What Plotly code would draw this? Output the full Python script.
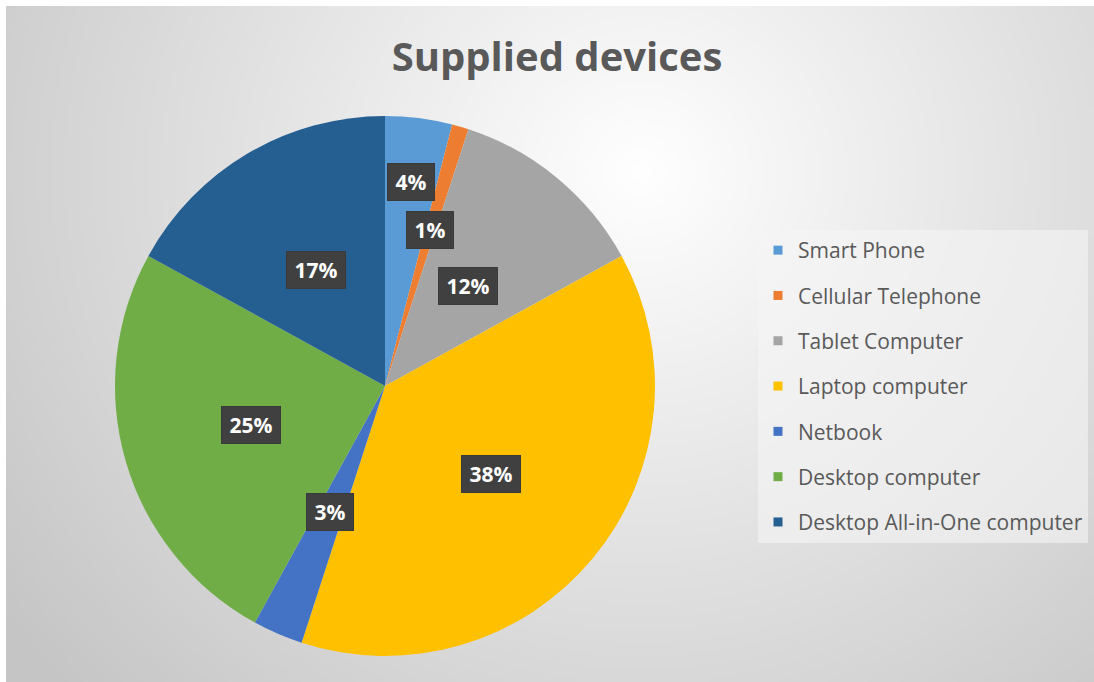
import base64
import math
import struct
import zlib

import numpy as np
import plotly.graph_objects as go

# ---- data -------------------------------------------------------------
devices = [
    "Smart Phone",
    "Cellular Telephone",
    "Tablet Computer",
    "Laptop computer",
    "Netbook",
    "Desktop computer",
    "Desktop All-in-One computer",
]
shares = [4, 1, 12, 38, 3, 25, 17]  # percent of supplied devices

# ---- style ------------------------------------------------------------
colors = ["#5B9BD5", "#ED7D31", "#A5A5A5", "#FFC000", "#4472C4", "#70AD47", "#255E91"]
label_radius = [0.76, 0.60, 0.48, 0.51, 0.51, 0.515, 0.50]  # fraction of pie radius
W, H = 1094, 682
FONT = "Open Sans"
TEXT_GREY = "#595959"
THIN = "\u2009"

# chart frame (inset by a thin white margin on the top and left)
frame_x0, frame_y0 = 6, 6
# pie placement in pixels
pie_cx, pie_cy, pie_r = 385, 386, 270


def gradient_png():
    """Soft radial grey gradient used as the chart area fill."""
    scale = 4
    gw, gh = (W - frame_x0) // scale, (H - frame_y0) // scale
    yy, xx = np.mgrid[0:gh, 0:gw].astype(float)
    px = xx * scale + frame_x0
    py = yy * scale + frame_y0
    r = np.hypot(px - 640, (py - 170) * 1.05)
    t = np.clip(r / 800.0, 0, 1)
    val = 255 - t * 58
    img = np.clip(val, 0, 255).astype(np.uint8)
    raw = b"".join(b"\x00" + row.tobytes() for row in img)

    def chunk(tag, data):
        c = struct.pack(">I", len(data)) + tag + data
        return c + struct.pack(">I", zlib.crc32(tag + data) & 0xFFFFFFFF)

    png = b"\x89PNG\r\n\x1a\n"
    png += chunk(b"IHDR", struct.pack(">IIBBBBB", gw, gh, 8, 0, 0, 0, 0))
    png += chunk(b"IDAT", zlib.compress(raw, 9))
    png += chunk(b"IEND", b"")
    return "data:image/png;base64," + base64.b64encode(png).decode()


dom_x = [(pie_cx - pie_r) / W, (pie_cx + pie_r) / W]
dom_y = [(H - pie_cy - pie_r) / H, (H - pie_cy + pie_r) / H]

fig = go.Figure()
fig.add_trace(
    go.Pie(
        labels=devices,
        values=shares,
        sort=False,
        direction="clockwise",
        rotation=0,
        marker=dict(colors=colors, line=dict(width=0)),
        textinfo="none",
        showlegend=False,
        domain=dict(x=dom_x, y=dom_y),
        hovertemplate="%{label}: %{value}%<extra></extra>",
    )
)

# legend entries (one group per device so the rows can be spaced out)
for name, col in zip(devices, colors):
    fig.add_trace(
        go.Scatter(
            x=[None], y=[None], mode="markers", name=name,
            legendgroup=name,
            marker=dict(symbol="square", size=9, color=col),
        )
    )

# percentage labels on dark boxes, placed at each slice's mid-angle
total = sum(shares)
cum = 0
annotations = []
for v, rf in zip(shares, label_radius):
    mid = (cum + v / 2) / total * 2 * math.pi
    cum += v
    rr = rf * pie_r
    lx = (pie_cx + rr * math.sin(mid)) / W
    ly = (H - pie_cy + rr * math.cos(mid)) / H
    annotations.append(dict(
        x=lx, y=ly, xref="paper", yref="paper", showarrow=False,
        xanchor="center", yanchor="middle",
        text=f"{THIN}<b>{v}%</b>{THIN}",
        font=dict(family=FONT, size=21, color="white"),
        bgcolor="#404040", borderpad=4,
        bordercolor="#3a3a3a", borderwidth=1,
    ))

fig.update_layout(
    width=W, height=H,
    margin=dict(l=0, r=0, t=0, b=0),
    paper_bgcolor="white",
    plot_bgcolor="rgba(0,0,0,0)",
    xaxis=dict(visible=False),
    yaxis=dict(visible=False),
    title=dict(
        text="Supplied devices",
        x=557 / W, xanchor="center",
        y=1 - 57 / H, yanchor="middle",
        font=dict(family=FONT, size=40, color=TEXT_GREY, weight="bold"),
    ),
    legend=dict(
        x=758 / W, xanchor="left",
        y=1 - 230 / H, yanchor="top",
        traceorder="grouped",
        tracegroupgap=15,
        bgcolor="rgba(245,245,245,0.6)",
        font=dict(family=FONT, size=21, color=TEXT_GREY),
        itemclick=False, itemdoubleclick=False,
    ),
    images=[dict(
        source=gradient_png(),
        xref="paper", yref="paper",
        x=frame_x0 / W, y=1 - frame_y0 / H,
        sizex=(W - frame_x0) / W, sizey=(H - frame_y0) / H,
        xanchor="left", yanchor="top",
        sizing="stretch", layer="below",
    )],
    annotations=annotations,
)

fig.write_html("out.html")
